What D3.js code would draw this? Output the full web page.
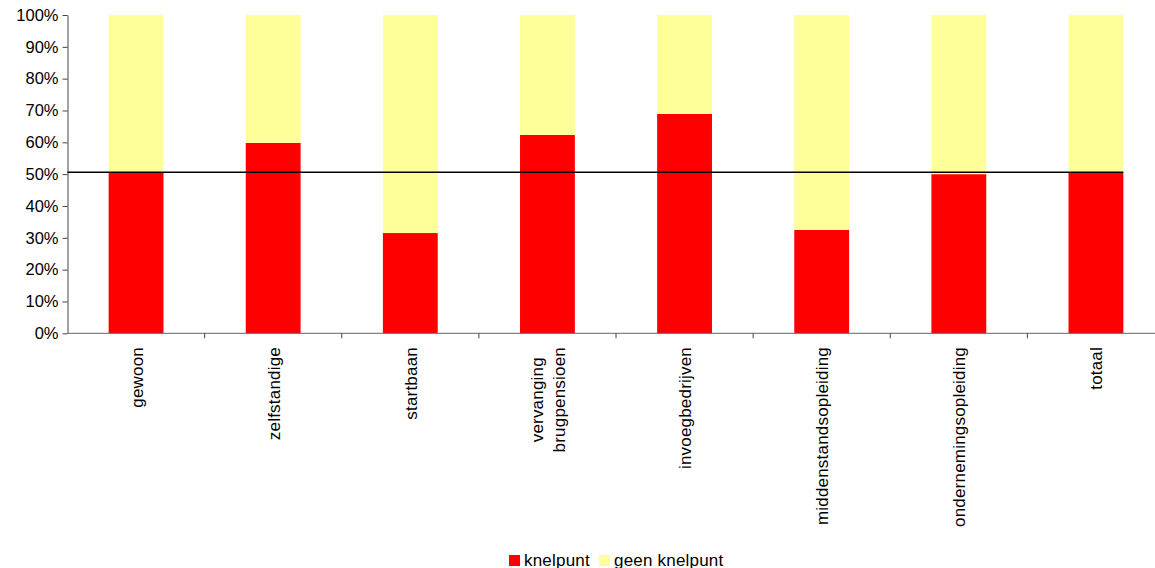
<!DOCTYPE html>
<html><head><meta charset="utf-8">
<script src="https://cdn.jsdelivr.net/npm/d3@7/dist/d3.min.js"></script>
<style>body{margin:0;background:#fff}svg{display:block}text{font-family:"Liberation Sans",Arial,sans-serif;fill:#000}</style>
</head><body>
<svg id="c" width="1155" height="568"></svg>
<script>
const categories = ["gewoon","zelfstandige","startbaan","vervanging\nbrugpensioen","invoegbedrijven","middenstandsopleiding","ondernemingsopleiding","totaal"];
const knelpunt = [0.505, 0.598, 0.315, 0.623, 0.689, 0.325, 0.500, 0.505];
const geenKnelpunt = knelpunt.map(v => 1 - v);
const referenceValue = 0.506;
const yTicks = [0,0.1,0.2,0.3,0.4,0.5,0.6,0.7,0.8,0.9,1.0];
const seriesNames = ["knelpunt","geen knelpunt"];
const colors = ["#FF0000","#FFFF99"];

(function(){
const svg = d3.select("#c");
const pL = 67.5, pR = 1164.5, pT = 15, pB = 333.3;
const x = d3.scaleBand().domain(categories).range([pL, pR]).paddingInner(0.6).paddingOuter(0.3);
const y = d3.scaleLinear().domain([0,1]).range([pB, pT]);

const data = categories.map((c,i)=>({cat:c, knelpunt:knelpunt[i], geen:geenKnelpunt[i]}));
const stack = d3.stack().keys(["knelpunt","geen"])(data);
svg.append("g").selectAll("g").data(stack).join("g")
  .attr("fill",(d,i)=>colors[i])
  .selectAll("rect").data(d=>d).join("rect")
  .attr("x",d=>x(d.data.cat)).attr("width",x.bandwidth())
  .attr("y",d=>y(d[1])).attr("height",d=>y(d[0])-y(d[1]));

// y axis
const ya = svg.append("g").attr("transform",`translate(${pL},0)`)
  .call(d3.axisLeft(y).tickValues(yTicks).tickFormat(d3.format(".0%")).tickSize(5).tickPadding(4).tickSizeOuter(0));
ya.select(".domain").attr("stroke","#444");
ya.selectAll(".tick line").attr("stroke","#444");
ya.selectAll("text").attr("font-size","16.5px").attr("font-family","'Liberation Sans',Arial,sans-serif").attr("fill","#000");

// x axis line and ticks at band boundaries
const step = x.step();
svg.append("line").attr("x1",pL).attr("x2",pR).attr("y1",pB).attr("y2",pB).attr("stroke","#666");
const bounds = d3.range(1, categories.length).map(i => pL + i*step);
svg.append("g").selectAll("line").data(bounds).join("line")
  .attr("x1",d=>d).attr("x2",d=>d).attr("y1",pB).attr("y2",pB+5).attr("stroke","#444");

// category labels (rotated)
const lab = svg.append("g");
categories.forEach(c=>{
  const lines = c.split("\n");
  const cx = x(c) + x.bandwidth()/2;
  const lh = 22;
  const g = lab.append("g");
  const ts = lines.map((l,j)=> g.append("text").attr("font-size","17px").attr("letter-spacing","0.2px")
      .attr("text-anchor","middle").attr("dominant-baseline","central").text(l));
  const maxW = d3.max(ts, t=>t.node().getComputedTextLength());
  ts.forEach((t,j)=>{
    const off = (j - (lines.length-1)/2)*lh;
    t.attr("transform",`translate(${cx+off+1},${347+maxW/2}) rotate(-90)`);
  });
});

// reference line
const lastCat = categories[categories.length-1];
svg.append("line").attr("x1",pL).attr("x2",x(lastCat)+x.bandwidth())
  .attr("y1",y(referenceValue)).attr("y2",y(referenceValue))
  .attr("stroke","#000").attr("stroke-width",1.5);

// legend
const leg = svg.append("g");
const legX = [509, 599];
seriesNames.forEach((n,i)=>{
  leg.append("rect").attr("x",legX[i]).attr("y",555).attr("width",11).attr("height",11).attr("fill",colors[i]);
  leg.append("text").attr("x",legX[i]+15).attr("y",565.5).attr("font-size","17px").attr("letter-spacing","0.2px").text(n);
});
})();
</script>
</body></html>
